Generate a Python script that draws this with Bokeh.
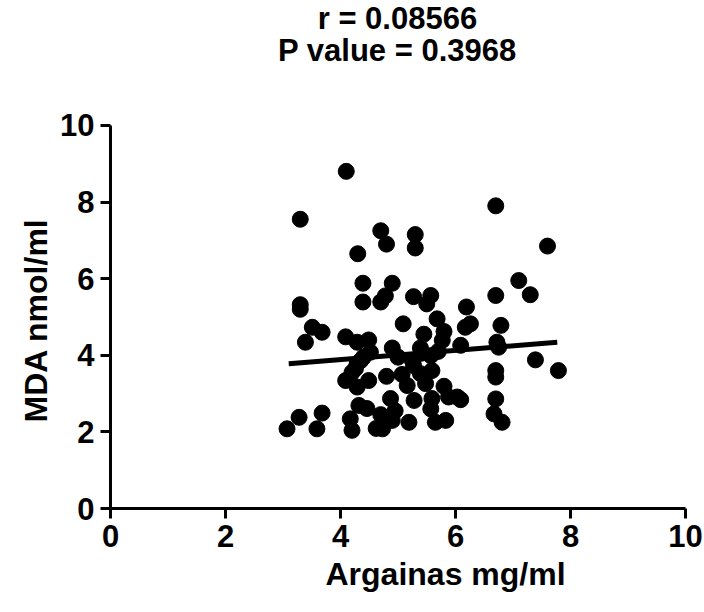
from bokeh.plotting import figure
from bokeh.models import Range1d, ColumnDataSource, Title, Label
from bokeh.embed import file_html
from bokeh.resources import INLINE

# ---- data ----
argainas = [4.10, 3.30, 6.70, 7.60, 4.70, 5.30, 4.80, 5.30, 4.30, 7.10,
            7.30, 6.70, 4.39, 4.90, 4.78, 4.70, 4.39, 5.27, 5.57, 5.50,
            3.30, 3.30, 6.19, 3.51, 3.68, 3.39, 4.09, 4.29, 4.49, 4.52,
            5.09, 5.68, 5.80, 5.77, 6.26, 6.17, 4.90, 5.39, 6.09, 6.79,
            6.72, 6.75, 4.29, 4.09, 4.29, 4.49, 4.26, 4.35, 4.80, 5.07,
            5.25, 5.57, 5.59, 5.39, 5.16, 5.48, 5.80, 6.03, 4.87, 5.28,
            5.59, 5.88, 6.09, 5.57, 4.32, 4.46, 3.28, 3.68, 3.07, 3.59,
            4.17, 4.70, 4.20, 4.90, 5.19, 5.65, 5.83, 4.73, 6.70, 6.70,
            7.39, 7.79, 6.70, 6.67, 6.81, 5.27, 4.20, 4.40, 5.40, 5.70,
            5.00, 4.62, 4.95, 5.45]
mda = [8.80, 7.55, 7.90, 6.85, 7.25, 7.15, 6.90, 6.80, 6.65, 5.95,
       5.58, 5.56, 5.88, 5.88, 5.55, 5.39, 5.39, 5.53, 5.56, 5.34,
       5.32, 5.20, 5.26, 4.73, 4.60, 4.34, 4.48, 4.34, 4.40, 4.08,
       4.82, 4.95, 4.62, 4.39, 4.82, 4.73, 4.19, 4.19, 4.26, 4.78,
       4.34, 4.21, 3.78, 3.34, 3.17, 3.34, 3.65, 3.86, 3.45, 3.50,
       3.86, 3.99, 3.60, 3.52, 3.21, 3.26, 3.19, 2.91, 2.87, 2.82,
       2.87, 2.91, 2.84, 2.60, 2.69, 2.61, 2.38, 2.49, 2.08, 2.08,
       2.34, 2.45, 2.04, 2.30, 2.25, 2.25, 2.30, 2.08, 3.60, 3.43,
       3.88, 3.60, 2.86, 2.47, 2.25, 3.73, 3.55, 3.95, 4.05, 4.10,
       3.95, 2.09, 2.55, 4.55]
fit_x = [3.10, 7.77]
fit_y = [3.78, 4.34]
x_ticks = [0, 2, 4, 6, 8, 10]
y_ticks = [0, 2, 4, 6, 8, 10]
title_lines = ["r = 0.08566", "P value = 0.3968"]
x_title = "Argainas mg/ml"
y_title = "MDA nmol/ml"

FONT = "Liberation Sans"

# y range extends above 10 to leave room for the two-line title;
# the axis itself is bounded to 0..10
p = figure(width=704, height=612, output_backend="svg", toolbar_location=None,
           x_range=Range1d(0, 10), y_range=Range1d(0, 13.26),
           min_border_left=110, min_border_right=19,
           min_border_top=0, min_border_bottom=104)
p.outline_line_color = None
p.grid.visible = False
p.background_fill_color = "white"
p.border_fill_color = "white"

for ax in (p.xaxis[0], p.yaxis[0]):
    ax.axis_line_width = 3
    ax.axis_line_color = "black"
    ax.major_tick_line_width = 3
    ax.major_tick_line_color = "black"
    ax.major_tick_out = 10
    ax.major_tick_in = 0
    ax.minor_tick_line_color = None
    ax.major_label_text_font = FONT
    ax.major_label_text_font_style = "bold"
    ax.major_label_text_font_size = "31px"
    ax.major_label_text_color = "black"
    ax.major_label_standoff = 6
p.xaxis.ticker = x_ticks
p.yaxis.ticker = y_ticks
p.yaxis.bounds = (0, 10)

src = ColumnDataSource(dict(x=argainas, y=mda))
p.scatter("x", "y", source=src, size=16, marker="circle",
          fill_color="black", line_color="black")
p.line(fit_x, fit_y, line_width=5, line_color="black")

for txt, yy in zip(title_lines, [12.79, 11.96]):
    p.add_layout(Label(x=4.99, y=yy, text=txt, text_align="center",
                       text_baseline="middle", text_font=FONT,
                       text_font_style="bold", text_font_size="31px",
                       text_color="black"))

xt = Title(text=x_title, align="left", offset=215, standoff=8,
           text_font=FONT, text_font_style="bold", text_font_size="32px",
           text_color="black")
p.add_layout(xt, "below")
yt = Title(text=y_title, align="left", offset=86, standoff=8,
           text_font=FONT, text_font_style="bold", text_font_size="32px",
           text_color="black")
p.add_layout(yt, "left")

open("out.html", "w").write(file_html(p, INLINE))
